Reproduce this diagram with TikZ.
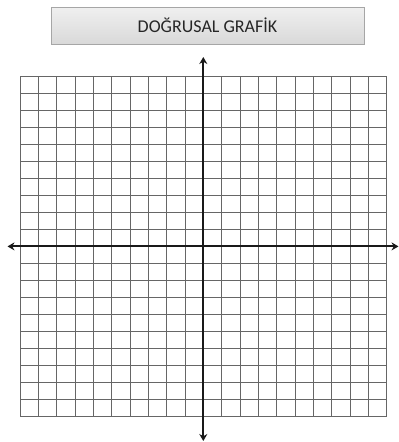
\documentclass[tikz,border=0pt]{standalone}
\usepackage{fontspec}
\setmainfont{Carlito}
\usetikzlibrary{arrows.meta,positioning}

\begin{document}
\begin{tikzpicture}[
  x=1pt, y=-1pt,
  titlebox/.style={draw=gray!70, top color=gray!12, bottom color=gray!30, minimum width=313pt, minimum height=37pt, font=\fontsize{18}{21}\selectfont, text=black!85},
  gridline/.style={draw=black!60, line width=0.9pt},
  axis/.style={draw=black!90, line width=2pt, {Stealth[length=7pt,width=8pt]}-{Stealth[length=7pt,width=8pt]}}
]
\useasboundingbox (0,0) rectangle (399,442);
\node[titlebox] (title) at (207.5,25.5) {DOĞRUSAL GRAFİK};
% square paper, 20 x 20 cells
\foreach \i in {0,...,20} {
  \draw[gridline] ({20+18.333*\i},76) -- ({20+18.333*\i},416.7);
  \draw[gridline] (20,{76+17.035*\i}) -- (386.7,{76+17.035*\i});
}
\coordinate (ytop) at (203.3,57);
\coordinate (ybot) at (203.3,441);
\coordinate (xleft) at (7.5,246.4);
\coordinate (xright) at (398.5,246.4);
\draw[axis] (ybot) -- (ytop);
\draw[axis] (xleft) -- (xright);
\end{tikzpicture}
\end{document}
